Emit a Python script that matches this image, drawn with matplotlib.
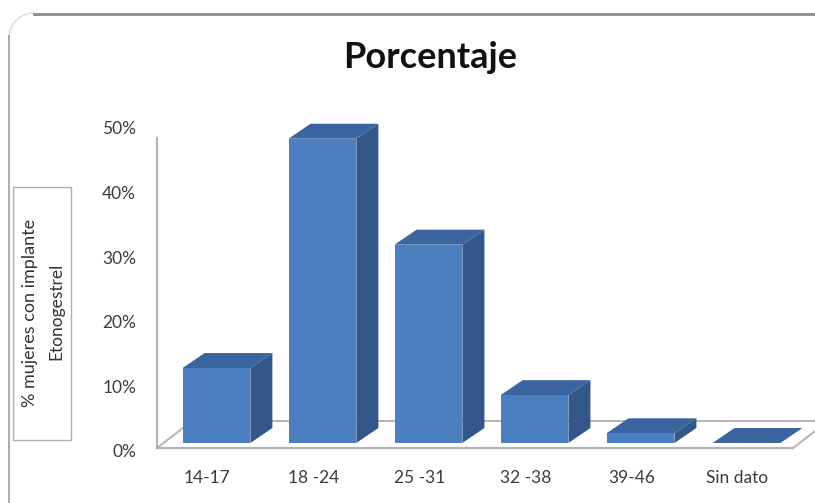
import numpy as np
import matplotlib.pyplot as plt
from matplotlib.patches import Polygon, Rectangle, Arc

plt.rcParams['font.family'] = ['Lato', 'DejaVu Sans']

# data
categories = ['14-17', '18 -24', '25 -31', '32 -38', '39-46', 'Sin dato']
values = [11.6, 47.1, 30.7, 7.4, 1.5, 0.0]
yticks = [0, 10, 20, 30, 40, 50]
ytick_labels = ['0%', '10%', '20%', '30%', '40%', '50%']

W, H = 815, 503
fig = plt.figure(figsize=(W / 100, H / 100), dpi=100)


def fx(px):
    return px / W


def fy(py):
    # py counted from the top of the image
    return 1 - py / H


# plot area: 1 category = 106 px, 1 % = 6.46 px
ax = fig.add_axes([fx(150), 40 / H, 665 / W, 350 / H])
ax.set_xlim(-0.627, 5.646)
ax.set_ylim(-1.86, 52.32)
for s in ax.spines.values():
    s.set_visible(False)

# 3d look
half = 0.32          # half width of the front face
ddx, ddy = 0.2075, 2.32  # bar depth offset
base = 1.24          # bar floor level
fdx, fdy = 0.33, 4.18    # floor depth
floor_y = 0.46
floor_x0, floor_x1 = -0.561, 5.439

front_col = '#4b7fbf'
top_col = '#3b65a0'
side_col = '#33578a'
grid_col = '#b4b4b4'

# floor outline and wall line (behind the bars)
kw = dict(color=grid_col, clip_on=False, zorder=0.5)
ax.plot([floor_x0, floor_x1], [floor_y, floor_y], lw=1.6, **kw)
ax.plot([floor_x0, floor_x0 + fdx], [floor_y, floor_y + fdy], lw=1.4, **kw)
ax.plot([floor_x0 + fdx, floor_x1 + fdx], [floor_y + fdy, floor_y + fdy], lw=1.4, **kw)
ax.plot([floor_x1, floor_x1 + fdx], [floor_y, floor_y + fdy], lw=1.4, **kw)
ax.plot([floor_x0, floor_x0], [floor_y, 48.4], lw=1.6, **kw)

for i, v in enumerate(values):
    x0, x1 = i - half, i + half
    y0, y1 = base, base + v
    side = [(x1, y0), (x1 + ddx, y0 + ddy), (x1 + ddx, y1 + ddy), (x1, y1)]
    top = [(x0, y1), (x0 + ddx, y1 + ddy), (x1 + ddx, y1 + ddy), (x1, y1)]
    ax.add_patch(Polygon(side, closed=True, facecolor=side_col, edgecolor='none', clip_on=False, zorder=2))
    ax.add_patch(Polygon(top, closed=True, facecolor=top_col, edgecolor='none', clip_on=False, zorder=2))
    if v > 0:
        ax.add_patch(Rectangle((x0, y0), 2 * half, v, facecolor=front_col, edgecolor='none',
                               clip_on=False, zorder=2))

ax.set_yticks(yticks)
ax.set_yticklabels(ytick_labels)
ax.set_xticks(np.arange(len(categories)) - 0.085)
ax.set_xticklabels(categories)
ax.tick_params(axis='y', length=0, pad=10, labelsize=12.5, labelcolor='#3c3c3c')
ax.tick_params(axis='x', length=0, pad=5, labelsize=12.5, labelcolor='#3c3c3c')

# title
fig.text(fx(430), fy(57), 'Porcentaje', ha='center', va='center',
         fontsize=26, fontweight='bold', color='#111111')

# y label box
fig.patches.append(Rectangle((fx(13), fy(440)), fx(71) - fx(13), fy(187) - fy(440),
                             transform=fig.transFigure, facecolor='white',
                             edgecolor='#b0b0b0', lw=1.0))
fig.text(fx(30), fy(313), '% mujeres con implante', rotation=90, ha='center', va='center',
         fontsize=13, color='#333333')
fig.text(fx(56), fy(311), 'Etonogestrel', rotation=90, ha='center', va='center',
         fontsize=12.5, color='#333333')

# outer frame
fig.add_artist(plt.Line2D([fx(34), fx(815)], [fy(13.5), fy(13.5)], transform=fig.transFigure,
                          color='#8c8c8c', lw=2.0))
fig.add_artist(plt.Line2D([fx(9), fx(9)], [fy(36), fy(503)], transform=fig.transFigure,
                          color='#a0a0a0', lw=1.2))
fig.add_artist(Arc((fx(34), fy(38)), 2 * 25 / W, 2 * 25 / H, theta1=90, theta2=180,
                   transform=fig.transFigure, color='#e0e0e0', lw=1.2))

fig.savefig('out.png', dpi=100)
